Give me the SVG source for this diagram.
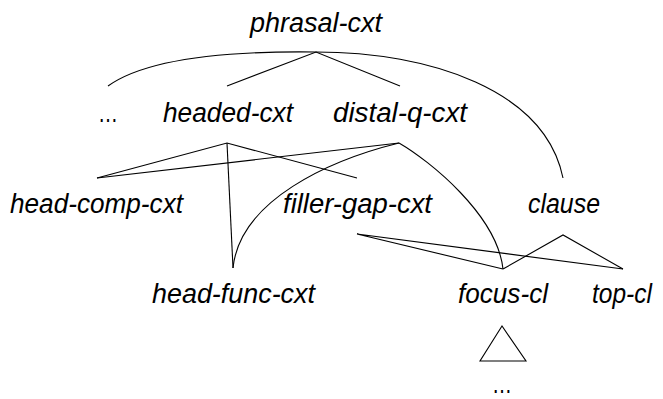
<svg xmlns="http://www.w3.org/2000/svg" width="663" height="399" viewBox="0 0 663 399">
  <style>
    .lbl { font-family: "Liberation Sans", Arial, sans-serif; font-style: italic; font-size: 27px; fill: #000; }
    .dots { font-family: "Liberation Sans", Arial, sans-serif; font-size: 27px; fill: #000; }
    .edge { fill: none; stroke: #000; stroke-width: 1.1; stroke-linejoin: miter; }
  </style>
  <rect width="663" height="399" fill="#fff"/>

  <!-- connectors -->
  <g id="connectors" class="edge">
    <!-- phrasal-cxt -->
    <path d="M108,86 C150,56 240,51 316,52 C430,52 545,90 563,178"/>
    <path d="M227,86 L316,52 L400,86"/>
    <!-- headed-cxt -->
    <path d="M97,178 L227,143 L357,178"/>
    <path d="M227,143 L233,268"/>
    <!-- distal-q-cxt -->
    <path d="M97,178 L399,143"/>
    <path d="M399,143 C330,160 240,200 233,268"/>
    <path d="M399,143 C430,161 497,215 503,269"/>
    <!-- filler-gap-cxt -->
    <path d="M503,269 L357,234 L623,269"/>
    <!-- clause -->
    <path d="M503,269 L563,235 L623,269"/>
    <!-- collapsed subtree under focus-cl -->
    <path d="M502,326 L480,361 L526,361 Z"/>
  </g>

  <g id="phrasal-cxt"><text class="lbl" x="250" y="32" textLength="132" lengthAdjust="spacingAndGlyphs">phrasal-cxt</text></g>
  <g id="more-top"><text class="dots" x="98" y="122" textLength="20" lengthAdjust="spacingAndGlyphs">…</text></g>
  <g id="headed-cxt"><text class="lbl" x="163" y="122" textLength="130" lengthAdjust="spacingAndGlyphs">headed-cxt</text></g>
  <g id="distal-q-cxt"><text class="lbl" x="333" y="122" textLength="134" lengthAdjust="spacingAndGlyphs">distal-q-cxt</text></g>
  <g id="head-comp-cxt"><text class="lbl" x="10" y="213" textLength="173" lengthAdjust="spacingAndGlyphs">head-comp-cxt</text></g>
  <g id="filler-gap-cxt"><text class="lbl" x="283" y="213" textLength="149" lengthAdjust="spacingAndGlyphs">filler-gap-cxt</text></g>
  <g id="clause"><text class="lbl" x="528" y="213" textLength="72" lengthAdjust="spacingAndGlyphs">clause</text></g>
  <g id="head-func-cxt"><text class="lbl" x="152" y="303" textLength="163" lengthAdjust="spacingAndGlyphs">head-func-cxt</text></g>
  <g id="focus-cl"><text class="lbl" x="458" y="303" textLength="90" lengthAdjust="spacingAndGlyphs">focus-cl</text></g>
  <g id="top-cl"><text class="lbl" x="592" y="303" textLength="60" lengthAdjust="spacingAndGlyphs">top-cl</text></g>
  <g id="more-bottom"><text class="dots" x="492" y="393" textLength="20" lengthAdjust="spacingAndGlyphs">…</text></g>
</svg>
